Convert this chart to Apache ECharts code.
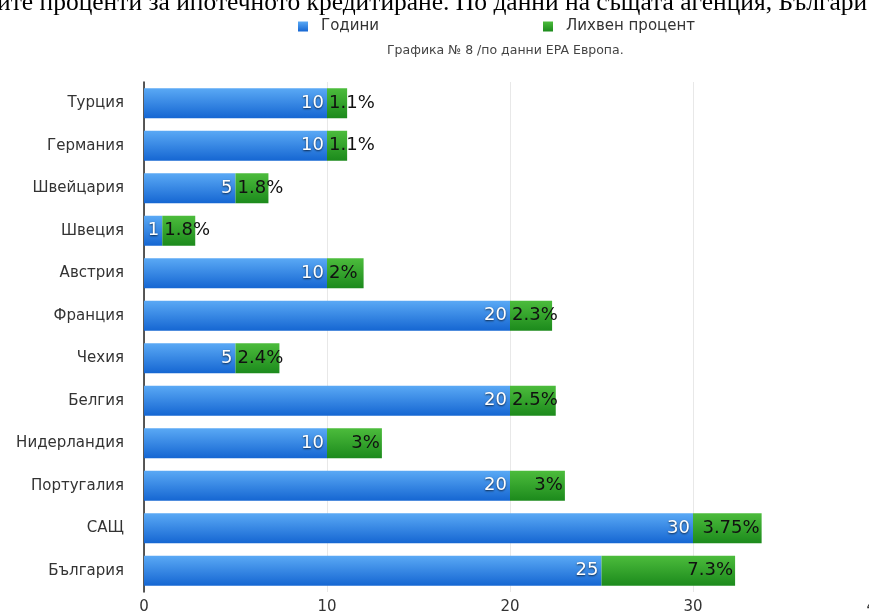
<!DOCTYPE html>
<html><head><meta charset="utf-8">
<script src="https://cdn.jsdelivr.net/npm/echarts@6/dist/echarts.min.js"></script>
<style>html,body{margin:0;padding:0;background:#fff;}#c{width:869px;height:616px;}</style>
</head><body><div id="c"></div>
<script>
const categories = ['Турция','Германия','Швейцария','Швеция','Австрия','Франция','Чехия','Белгия','Нидерландия','Португалия','САЩ','България'];
const years = [10,10,5,1,10,20,5,20,10,20,30,25];
const rates = [1.1,1.1,1.8,1.8,2,2.3,2.4,2.5,3,3,3.75,7.3];
const seriesNames = ['Години','Лихвен процент'];
const headText = 'ите проценти за ипотечното кредитиране. По данни на същата агенция, Българи';
const subText = 'Графика № 8 /по данни EPA Европа.';

const SANS = '"DejaVu Sans", "Liberation Sans", Arial, sans-serif';
const chart = echarts.init(document.getElementById('c'));
const grad = (a,b)=>new echarts.graphic.LinearGradient(0,0,0,1,[{offset:0,color:a},{offset:1,color:b}]);
chart.setOption({
  animation:false,
  graphic:[
    {type:'text', left:-3, top:-10, style:{text:headText, font:'25.5px "Liberation Serif", serif', fill:'#000'}},
    {type:'text', left:387, top:44, style:{text:subText, font:'12.5px ' + SANS, fill:'#444'}}
  ],
  legend:{left:293, top:14, itemGap:164, icon:'rect', itemWidth:10, itemHeight:10,
    textStyle:{fontSize:15, color:'#333', fontFamily:SANS, padding:[0,0,0,8]}, data:seriesNames},
  grid:{left:144, top:82, width:732, height:510, outerBoundsMode:'none'},
  xAxis:{type:'value', min:0, max:40, interval:10,
    axisLine:{show:false}, axisTick:{show:false},
    splitLine:{lineStyle:{color:'#e8e8e8'}},
    axisLabel:{fontSize:15, color:'#333', margin:8, fontFamily:SANS}},
  yAxis:{type:'category', inverse:true, data:categories,
    axisLine:{lineStyle:{color:'#222', width:1.5}}, axisTick:{show:false},
    axisLabel:{fontSize:15, color:'#333', margin:20, fontFamily:SANS}},
  series:[
    {name:seriesNames[0], type:'bar', stack:'a', barWidth:30, data:years,
      itemStyle:{color:grad('#5aa9f5','#1566d2')},
      label:{show:true, position:'insideRight', distance:3, color:'#fff', fontSize:18,
        fontFamily:SANS,
        textShadowColor:'rgba(0,0,0,0.7)', textShadowBlur:2, textShadowOffsetX:0, textShadowOffsetY:1}},
    {name:seriesNames[1], type:'bar', stack:'a', barWidth:30,
      data:rates.map(v=>({value:v, label:{position: v>=3 ? 'insideRight' : 'insideLeft'}})),
      itemStyle:{color:grad('#4cbc3c','#1c8a1c')},
      label:{show:true, distance:2, color:'#111', fontSize:18,
        fontFamily:SANS, formatter:p=>p.value+'%'}}
  ]
});
</script></body></html>
